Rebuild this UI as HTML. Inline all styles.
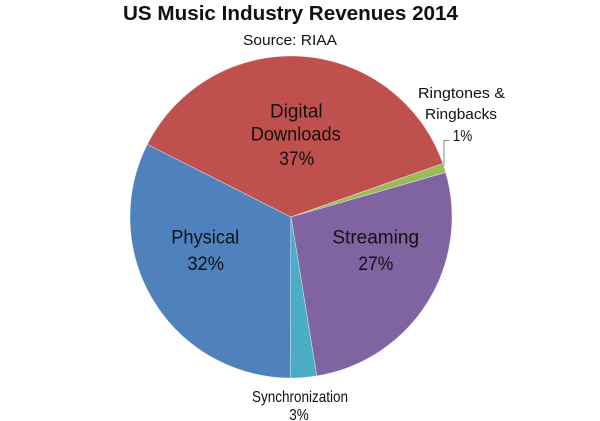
<!DOCTYPE html>
<html>
<head>
<meta charset="utf-8">
<style>
  html, body { margin:0; padding:0; background:#ffffff; }
  body { width:600px; height:421px; overflow:hidden; }
  svg { display:block; }
  text { font-family: "Liberation Sans", "DejaVu Sans", sans-serif; fill:#111; }
</style>
</head>
<body>
<svg width="600" height="421" viewBox="0 0 600 421" xmlns="http://www.w3.org/2000/svg">
  <rect x="0" y="0" width="600" height="421" fill="#ffffff"/>

  <!-- Title -->
  <text x="290.5" y="20" text-anchor="middle" font-size="20" font-weight="bold" textLength="335" lengthAdjust="spacingAndGlyphs">US Music Industry Revenues 2014</text>
  <text x="290" y="45" text-anchor="middle" font-size="15" textLength="94" lengthAdjust="spacingAndGlyphs">Source: RIAA</text>

  <!-- Pie slices: center (291,217), r=161 -->
  <g stroke="#ffffff" stroke-width="0.6" stroke-opacity="0.6">
    <path d="M291,217 L290.2,378 A161,161 0 0 1 147.3,144.4 Z" fill="#4F81BD"/>
    <path d="M291,217 L147.3,144.4 A161,161 0 0 1 442.9,163.5 Z" fill="#C0504D"/>
    <path d="M291,217 L442.9,163.5 A161,161 0 0 1 445.7,172.4 Z" fill="#9BBB59"/>
    <path d="M291,217 L445.7,172.4 A161,161 0 0 1 316.7,375.9 Z" fill="#8064A2"/>
    <path d="M291,217 L316.7,375.9 A161,161 0 0 1 290.2,378 Z" fill="#4BACC6"/>
  </g>

  <!-- Leader line for Ringtones -->
  <polyline points="444,166 444,140.5 449.5,140.5" fill="none" stroke="#8a8a8a" stroke-width="1"/>

  <!-- Inside labels -->
  <text x="296.3" y="117.3" text-anchor="middle" font-size="19" textLength="52.7" lengthAdjust="spacingAndGlyphs">Digital</text>
  <text x="295.7" y="140.5" text-anchor="middle" font-size="19" textLength="90" lengthAdjust="spacingAndGlyphs">Downloads</text>
  <text x="296.7" y="165" text-anchor="middle" font-size="19" textLength="35" lengthAdjust="spacingAndGlyphs">37%</text>

  <text x="205.2" y="243.3" text-anchor="middle" font-size="19" textLength="68" lengthAdjust="spacingAndGlyphs">Physical</text>
  <text x="205.7" y="270" text-anchor="middle" font-size="19" textLength="36.7" lengthAdjust="spacingAndGlyphs">32%</text>

  <text x="375.7" y="243.5" text-anchor="middle" font-size="19" textLength="86.7" lengthAdjust="spacingAndGlyphs">Streaming</text>
  <text x="375.8" y="270" text-anchor="middle" font-size="19" textLength="35" lengthAdjust="spacingAndGlyphs">27%</text>

  <!-- Outside labels -->
  <text x="461.5" y="98" text-anchor="middle" font-size="15" textLength="87" lengthAdjust="spacingAndGlyphs">Ringtones &amp;</text>
  <text x="461" y="119" text-anchor="middle" font-size="15" textLength="72" lengthAdjust="spacingAndGlyphs">Ringbacks</text>
  <text x="462.5" y="141" text-anchor="middle" font-size="16" textLength="19.5" lengthAdjust="spacingAndGlyphs">1%</text>

  <text x="300" y="402" text-anchor="middle" font-size="16" textLength="96" lengthAdjust="spacingAndGlyphs">Synchronization</text>
  <text x="299" y="420" text-anchor="middle" font-size="16" textLength="19.5" lengthAdjust="spacingAndGlyphs">3%</text>
</svg>
</body>
</html>
